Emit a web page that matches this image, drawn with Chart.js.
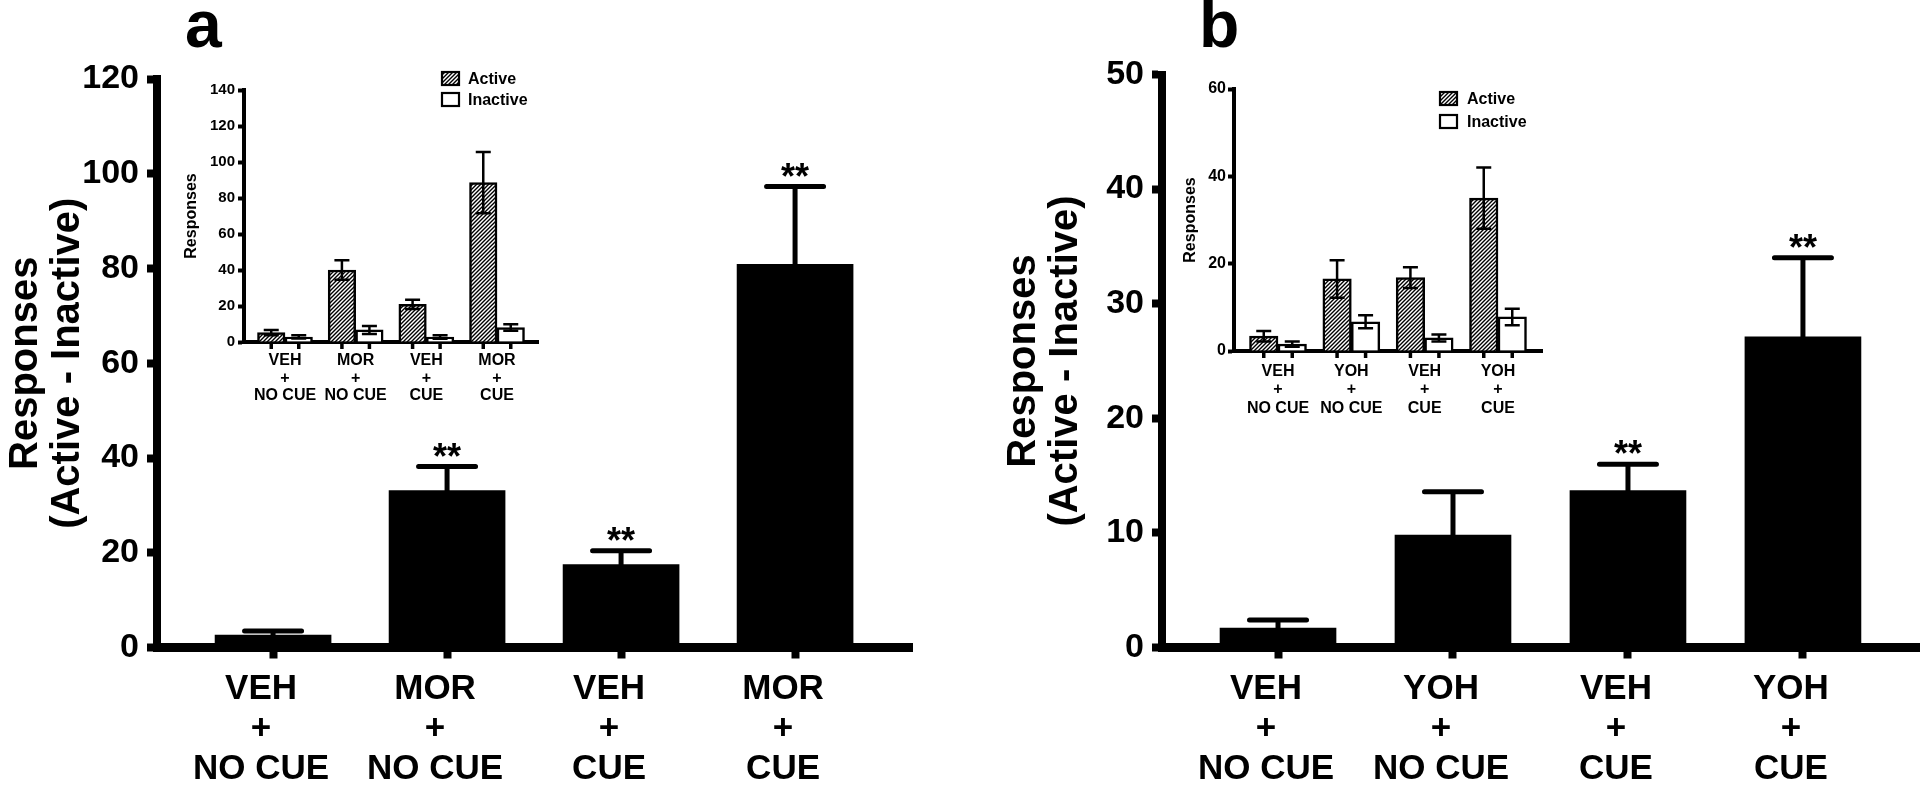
<!DOCTYPE html>
<html><head><meta charset="utf-8">
<script src="https://cdn.jsdelivr.net/npm/chart.js@4.4.1/dist/chart.umd.min.js"></script>
<style>
html,body{margin:0;padding:0;background:#fff;width:1920px;height:785px;overflow:hidden;}
.box{position:absolute;}
canvas{display:block;}
</style></head><body>
<div class="box" style="left:0;top:0;"><canvas id="mainA" width="960" height="785"></canvas></div>
<div class="box" style="left:960px;top:0;"><canvas id="mainB" width="960" height="785"></canvas></div>
<div class="box" style="left:150px;top:55px;"><canvas id="insetA" width="400" height="360"></canvas></div>
<div class="box" style="left:1150px;top:55px;"><canvas id="insetB" width="420" height="360"></canvas></div>
<script>
const FONT = "'Liberation Sans', Arial, Helvetica, sans-serif";

// ---- data ----
const catsA = [['VEH','+','NO CUE'],['MOR','+','NO CUE'],['VEH','+','CUE'],['MOR','+','CUE']];
const catsB = [['VEH','+','NO CUE'],['YOH','+','NO CUE'],['VEH','+','CUE'],['YOH','+','CUE']];
const diffA = [2.6, 33.1, 17.5, 80.9];
const diffErrA = [0.9, 5.1, 2.9, 16.4];
const sigA = ['', '**', '**', '**'];
const diffB = [1.7, 9.8, 13.7, 27.1];
const diffErrB = [0.7, 3.8, 2.3, 6.9];
const sigB = ['', '', '**', '**'];
const activeA = [5.2, 40.0, 20.9, 88.5];
const activeErrA = [1.5, 5.4, 2.6, 17.0];
const inactiveA = [2.8, 6.7, 2.8, 8.0];
const inactiveErrA = [0.9, 2.2, 1.0, 1.8];
const activeB = [3.4, 16.5, 16.8, 35.0];
const activeErrB = [1.2, 4.3, 2.4, 7.0];
const inactiveB = [1.6, 6.7, 3.0, 7.8];
const inactiveErrB = [0.6, 1.5, 0.8, 1.9];
const yTicksMainA = [0, 20, 40, 60, 80, 100, 120];
const yTicksMainB = [0, 10, 20, 30, 40, 50];
const yTicksInsetA = [0, 20, 40, 60, 80, 100, 120, 140];
const yTicksInsetB = [0, 20, 40, 60];
const legendLabels = ['Active', 'Inactive'];
const yTitleMain = ['Responses', '(Active - Inactive)'];
const yTitleInset = 'Responses';
const panelA = 'a', panelB = 'b';

Chart.defaults.font.family = FONT;
Chart.defaults.color = '#000';

function hatch() {
  const c = document.createElement('canvas');
  c.width = 4; c.height = 4;
  const g = c.getContext('2d');
  g.fillStyle = '#fff'; g.fillRect(0, 0, 4, 4);
  g.strokeStyle = '#000'; g.lineWidth = 1.4;
  g.beginPath();
  g.moveTo(0, 4); g.lineTo(4, 0);
  g.moveTo(-1, 1); g.lineTo(1, -1);
  g.moveTo(3, 5); g.lineTo(5, 3);
  g.stroke();
  return g.createPattern(c, 'repeat');
}

const extras = {
  id: 'extras',
  afterDatasetsDraw(chart, args, o) {
    const ctx = chart.ctx, ys = chart.scales.y;
    ctx.save();
    if (o.errors) {
      chart.data.datasets.forEach((ds, di) => {
        const meta = chart.getDatasetMeta(di);
        const errs = o.errors[di];
        meta.data.forEach((el, i) => {
          const v = ds.data[i].y, e = errs[i];
          const cx = el.x;
          const top = ys.getPixelForValue(v + e), bot = ys.getPixelForValue(v - e);
          ctx.strokeStyle = '#000';
          ctx.lineWidth = o.stemW; ctx.lineCap = 'butt';
          ctx.beginPath(); ctx.moveTo(cx, top); ctx.lineTo(cx, bot); ctx.stroke();
          ctx.lineWidth = o.capT; ctx.lineCap = o.capRound ? 'round' : 'butt';
          const hw = o.capW / 2 - (o.capRound ? o.capT / 2 : 0);
          ctx.beginPath();
          ctx.moveTo(cx - hw, top); ctx.lineTo(cx + hw, top);
          ctx.moveTo(cx - hw, bot); ctx.lineTo(cx + hw, bot);
          ctx.stroke();
          if (o.sig && o.sig[i]) {
            ctx.fillStyle = '#000';
            ctx.font = 'bold ' + o.sigSize + 'px ' + FONT;
            ctx.textAlign = 'center'; ctx.textBaseline = 'alphabetic';
            ctx.fillText(o.sig[i], cx, top + o.sigDy);
          }
        });
      });
    }
    if (o.barTicks) {
      const ca = chart.chartArea;
      const y0 = ca.bottom + o.barTicks.bw / 2;
      ctx.strokeStyle = '#000'; ctx.lineWidth = o.barTicks.w; ctx.lineCap = 'butt';
      chart.data.datasets.forEach((ds, di) => {
        chart.getDatasetMeta(di).data.forEach(el => {
          ctx.beginPath(); ctx.moveTo(el.x, y0 - 1); ctx.lineTo(el.x, y0 + o.barTicks.len); ctx.stroke();
        });
      });
    }
    ctx.restore();
  },
  afterDraw(chart, args, o) {
    const ctx = chart.ctx;
    ctx.save();
    if (o.letter) {
      ctx.fillStyle = '#000';
      ctx.font = 'bold ' + o.letter.size + 'px ' + FONT;
      ctx.textAlign = 'left'; ctx.textBaseline = 'alphabetic';
      ctx.fillText(o.letter.text, o.letter.x, o.letter.y);
    }
    if (o.legend) {
      const L = o.legend;
      chart.data.datasets.forEach((ds, i) => {
        const bx = L.x, by = L.y + i * L.dy;
        ctx.fillStyle = ds.backgroundColor;
        ctx.fillRect(bx, by, L.w, L.h);
        ctx.lineWidth = 2.2; ctx.strokeStyle = '#000';
        ctx.strokeRect(bx, by, L.w, L.h);
        ctx.fillStyle = '#000';
        ctx.font = 'bold ' + L.size + 'px ' + FONT;
        ctx.textAlign = 'left'; ctx.textBaseline = 'middle';
        ctx.fillText(ds.label, bx + L.w + L.gap, by + L.h / 2 + 1);
      });
    }
    ctx.restore();
  }
};

function mainChart(id, cats, vals, errs, sig, yt, letter, o) {
  return new Chart(document.getElementById(id), {
    type: 'bar',
    data: { datasets: [{ data: vals.map((v, i) => ({ x: i, y: v })), backgroundColor: '#000', borderWidth: 0, barThickness: 116 }] },
    options: {
      responsive: false, animation: false, devicePixelRatio: 1,
      layout: { padding: { left: 0, right: o.padRight, top: o.padTop, bottom: 0 } },
      plugins: {
        legend: { display: false }, tooltip: { enabled: false },
        extras: { errors: [errs], stemW: 5, capT: 5, capW: 62, capRound: true, sig: sig, sigSize: 36, sigDy: 2,
                  letter: { text: letter, x: o.letterX, y: 47, size: 66 } }
      },
      scales: {
        x: {
          type: 'linear', offset: false, min: o.xmin, max: o.xmax,
          afterBuildTicks: s => { s.ticks = cats.map((c, i) => ({ value: i })); },
          afterFit: s => { s.height = o.xH; },
          grid: { offset: false, drawOnChartArea: false, drawTicks: true, tickLength: 11, tickWidth: 8, tickColor: '#000' },
          border: { display: true, width: 9, color: '#000' },
          ticks: { autoSkip: false, maxRotation: 0, minRotation: 0, padding: 11, labelOffset: -12, color: '#000',
                   font: { size: 35, weight: 'bold', lineHeight: '40px' },
                   callback: v => cats[v] !== undefined ? cats[v] : '' }
        },
        y: {
          min: yt[0], max: yt[yt.length - 1],
          afterBuildTicks: s => { s.ticks = yt.map(v => ({ value: v })); },
          afterFit: s => { s.width = o.yW; },
          grid: { drawOnChartArea: false, tickLength: 10, tickWidth: 8, tickColor: '#000' },
          border: { display: true, width: 8, color: '#000' },
          ticks: { padding: 8, color: '#000', font: { size: 34, weight: 'bold' } },
          title: { display: true, text: yTitleMain, color: '#000', font: { size: 40, weight: 'bold', lineHeight: '42px' },
                   padding: { top: o.titlePad, bottom: 0 } }
        }
      }
    },
    plugins: [extras]
  });
}

function insetChart(id, cats, act, actE, inact, inactE, yt, o) {
  return new Chart(document.getElementById(id), {
    type: 'bar',
    data: { datasets: [
      { label: legendLabels[0], data: act.map((v, i) => ({ x: i, y: v })), backgroundColor: hatch(), borderColor: '#000', borderWidth: 2.5, barThickness: o.barW },
      { label: legendLabels[1], data: inact.map((v, i) => ({ x: i, y: v })), backgroundColor: '#fff', borderColor: '#000', borderWidth: 2.5, barThickness: o.barW }
    ] },
    options: {
      responsive: false, animation: false, devicePixelRatio: 1,
      layout: { padding: { left: 0, right: o.padRight, top: o.padTop, bottom: 0 } },
      plugins: {
        legend: { display: false }, tooltip: { enabled: false },
        extras: { errors: [actE, inactE], stemW: 2.5, capT: 2.5, capW: 15, capRound: false,
                  barTicks: { bw: 4, w: 3.5, len: 5 },
                  legend: { x: o.legX, y: o.legY, dy: o.legDy, w: 17, h: 13, gap: o.legGap, size: 16 } }
      },
      scales: {
        x: {
          type: 'linear', offset: false, min: o.xmin, max: o.xmax,
          afterBuildTicks: s => { s.ticks = cats.map((c, i) => ({ value: i })); },
          afterFit: s => { s.height = o.xH; },
          grid: { offset: false, drawOnChartArea: false, drawTicks: true, tickLength: 5, tickWidth: 0, tickColor: 'rgba(0,0,0,0)' },
          border: { display: true, width: 4, color: '#000' },
          ticks: { autoSkip: false, maxRotation: 0, minRotation: 0, padding: o.xPad, color: '#000',
                   font: { size: 16, weight: 'bold', lineHeight: o.xLH },
                   callback: v => cats[v] !== undefined ? cats[v] : '' }
        },
        y: {
          min: yt[0], max: yt[yt.length - 1],
          afterBuildTicks: s => { s.ticks = yt.map(v => ({ value: v })); },
          afterFit: s => { s.width = o.yW; },
          grid: { drawOnChartArea: false, tickLength: 6, tickWidth: 4, tickColor: '#000' },
          border: { display: true, width: 4, color: '#000' },
          ticks: { padding: o.yPad, color: '#000', font: { size: o.ySize, weight: 'bold' } },
          title: { display: true, text: yTitleInset, color: '#000', font: { size: 16, weight: 'bold' },
                   padding: { top: o.titlePad, bottom: 0 } }
        }
      }
    },
    plugins: [extras]
  });
}

mainChart('mainA', catsA, diffA, diffErrA, sigA, yTicksMainA, panelA,
  { padRight: 48, padTop: 79, xH: 137.5, yW: 157, xmin: -0.667, xmax: 3.672, titlePad: 5, letterX: 185 });
mainChart('mainB', catsB, diffB, diffErrB, sigB, yTicksMainB, panelB,
  { padRight: 0, padTop: 74.5, xH: 137.5, yW: 202, xmin: -0.663, xmax: 3.669, titlePad: 43, letterX: 239 });
insetChart('insetA', catsA, activeA, activeErrA, inactiveA, inactiveErrA, yTicksInsetA,
  { barW: 27.5, padRight: 12, padTop: 35, xH: 73, yW: 94, xmin: -0.58, xmax: 3.58, xPad: 5, xLH: '17.5px',
    yPad: 3, ySize: 15, titlePad: 32, legX: 292, legY: 17, legDy: 21, legGap: 9 });
insetChart('insetB', catsB, activeB, activeErrB, inactiveB, inactiveErrB, yTicksInsetB,
  { barW: 28.5, padRight: 28, padTop: 34, xH: 64, yW: 84, xmin: -0.6, xmax: 3.6, xPad: 6, xLH: '18.5px',
    yPad: 2, ySize: 16, titlePad: 31, legX: 290, legY: 37, legDy: 23, legGap: 10 });
</script>
</body></html>
